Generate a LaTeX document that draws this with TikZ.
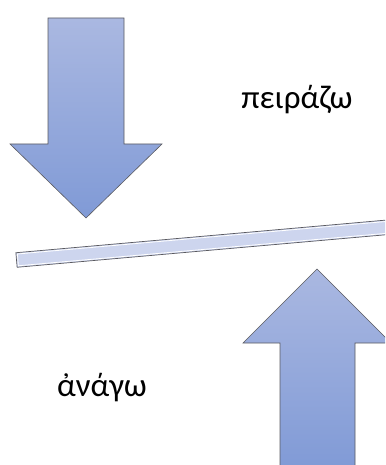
\documentclass[tikz,border=0pt]{standalone}
\usepackage{fontspec}
\setmainfont{Carlito}
\definecolor{arrtop}{RGB}{170,184,225}
\definecolor{arrbot}{RGB}{128,154,214}
\definecolor{barfill}{RGB}{205,213,238}
\definecolor{edgegray}{RGB}{90,90,95}
\tikzset{
  arrowshape/.style={top color=arrtop, bottom color=arrbot, draw=edgegray, line width=0.6pt, line join=miter},
  word/.style={font=\fontsize{33}{40}\selectfont, text=black, inner sep=0pt}
}
\begin{document}
\begin{tikzpicture}[x=1pt,y=-1pt]
\useasboundingbox (0,0) rectangle (385,465);
\clip (0,0) rectangle (385,465);
% down arrow
\shade[arrowshape] (48,18) -- (124,18) -- (124,144) -- (162,144) -- (86,218) -- (10,144) -- (48,144) -- cycle;
% up arrow
\shade[arrowshape] (280,470) -- (280,343) -- (243,343) -- (317,269) -- (391,343) -- (355,343) -- (355,470) -- cycle;
% tilted bar
\begin{scope}[shift={(16.5,260)}, rotate=5.04]
  \filldraw[fill=barfill, draw=edgegray, line width=0.7pt] (0,-7.3) rectangle (380,7.3);
  \draw[white, line width=0.8pt] (1.4,-5.9) rectangle (378,5.9);
\end{scope}
\node[word] (peirazo) at (297,100) {πειράζω};
\node[word] (anago) at (102,388) {ἀνάγω};
\end{tikzpicture}
\end{document}
